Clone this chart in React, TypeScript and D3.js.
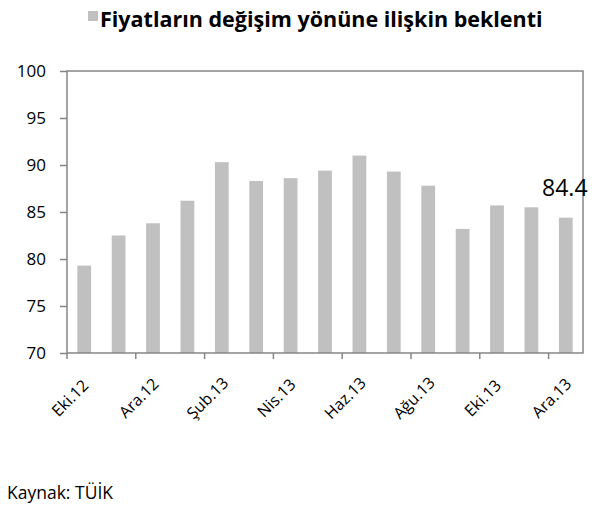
import { useEffect, useRef } from "react";
import * as d3 from "d3";

const months = [
  "Eki.12", "Kas.12", "Ara.12", "Oca.13", "Şub.13", "Mar.13", "Nis.13", "May.13",
  "Haz.13", "Tem.13", "Ağu.13", "Eyl.13", "Eki.13", "Kas.13", "Ara.13",
];
const expectation = [79.3, 82.5, 83.8, 86.2, 90.3, 88.3, 88.6, 89.4, 91.0, 89.3, 87.8, 83.2, 85.7, 85.5, 84.4];
const yTicks = [70, 75, 80, 85, 90, 95, 100];

const title = "Fiyatların değişim yönüne ilişkin beklenti";
const source = "Kaynak: TÜİK";

export default function App() {
  const ref = useRef<SVGSVGElement>(null);

  useEffect(() => {
    const svg = d3.select(ref.current);
    svg.selectAll("*").remove();

    const width = 603;
    const height = 509;
    const margin = { top: 71, left: 67 };
    const innerWidth = 583 - margin.left;
    const innerHeight = 353 - margin.top;
    const font = "'Open Sans', sans-serif";
    const axisColor = "#868686";
    const barColor = "#c0c0c0";

    svg.attr("width", width).attr("height", height);

    const x = d3.scaleBand().domain(months).range([0, innerWidth]).paddingInner(0.6).paddingOuter(0.3);
    const y = d3.scaleLinear().domain([70, 100]).range([innerHeight, 0]);
    const step = innerWidth / months.length;

    // title with legend swatch
    svg
      .append("text")
      .attr("x", 100)
      .attr("y", 27)
      .attr("font-family", font)
      .attr("font-weight", "bold")
      .attr("font-size", 21.5)
      .attr("fill", "#000")
      .text(title);
    svg.append("rect").attr("x", 88).attr("y", 11).attr("width", 10).attr("height", 10).attr("fill", barColor);

    const g = svg.append("g").attr("transform", `translate(${margin.left},${margin.top})`);

    // bars
    g.selectAll(".bar")
      .data(expectation)
      .enter()
      .append("rect")
      .attr("x", (_d, i) => x(months[i])!)
      .attr("y", (d) => y(d))
      .attr("width", x.bandwidth())
      .attr("height", (d) => innerHeight - y(d))
      .attr("fill", barColor);

    // frame
    g.append("rect")
      .attr("width", innerWidth)
      .attr("height", innerHeight)
      .attr("fill", "none")
      .attr("stroke", axisColor)
      .attr("stroke-width", 1.5);

    // y axis
    const yAxis = g.append("g").call(d3.axisLeft(y).tickValues(yTicks).tickSize(7).tickPadding(14));
    yAxis.select(".domain").remove();
    yAxis.selectAll("line").attr("stroke", axisColor).attr("stroke-width", 1.5);
    yAxis.selectAll("text").attr("font-family", font).attr("font-size", 17).attr("fill", "#000");

    // x ticks on every second category boundary
    const boundaries = d3.range(0, months.length, 2);
    g.selectAll(".xtick")
      .data(boundaries)
      .enter()
      .append("line")
      .attr("x1", (i) => i * step)
      .attr("x2", (i) => i * step)
      .attr("y1", innerHeight)
      .attr("y2", innerHeight + 6)
      .attr("stroke", axisColor)
      .attr("stroke-width", 1.5);

    // rotated month labels
    g.selectAll(".xlabel")
      .data(boundaries)
      .enter()
      .append("g")
      .attr("transform", (i) => `translate(${i * step + 3},${innerHeight + 45})`)
      .append("text")
      .attr("transform", "rotate(-45)")
      .attr("text-anchor", "middle")
      .attr("dy", "0.35em")
      .attr("font-family", font)
      .attr("font-size", 16)
      .attr("fill", "#000")
      .text((i) => months[i]);

    // last value label
    const last = expectation.length - 1;
    g.append("text")
      .attr("x", x(months[last])! + x.bandwidth() / 2 - 1)
      .attr("y", y(expectation[last]) - 22)
      .attr("text-anchor", "middle")
      .attr("font-family", font)
      .attr("font-size", 23)
      .attr("fill", "#000")
      .text(expectation[last].toFixed(1));

    svg
      .append("text")
      .attr("x", 7)
      .attr("y", 499)
      .attr("font-family", font)
      .attr("font-size", 17.5)
      .attr("fill", "#000")
      .text(source);
  }, []);

  return <svg ref={ref} style={{ position: "absolute", left: 0, top: 0 }} />;
}
